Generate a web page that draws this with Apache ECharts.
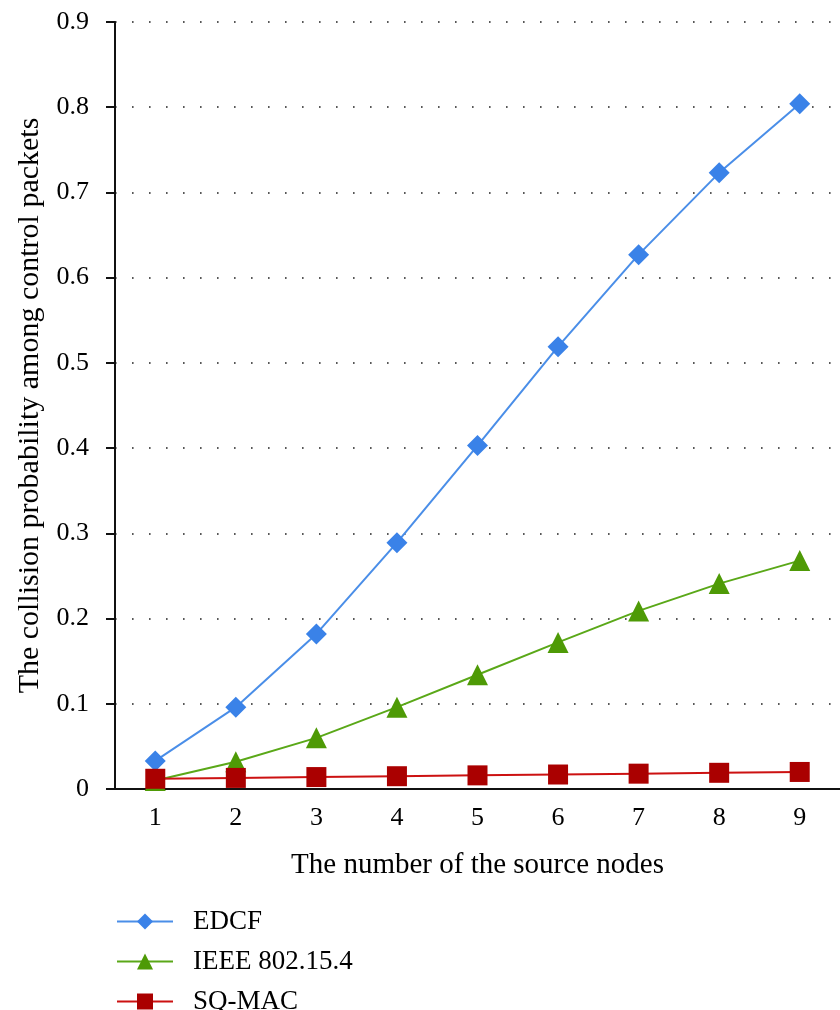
<!DOCTYPE html>
<html><head><meta charset="utf-8">
<script src="https://cdn.jsdelivr.net/npm/echarts@6/dist/echarts.min.js"></script>
<style>html,body{margin:0;padding:0;background:#fff}#c{width:840px;height:1010px}</style>
</head><body><div id="c"></div>
<script>
const categories = ['1','2','3','4','5','6','7','8','9'];
const edcf = [0.033, 0.096, 0.182, 0.289, 0.403, 0.519, 0.627, 0.723, 0.804];
const ieee = [0.010, 0.032, 0.060, 0.096, 0.134, 0.172, 0.209, 0.241, 0.268];
const sqmac = [0.012, 0.013, 0.014, 0.015, 0.016, 0.017, 0.018, 0.019, 0.020];
const seriesNames = ['EDCF', 'IEEE 802.15.4', 'SQ-MAC'];
const font = 'Liberation Serif, DejaVu Serif, serif';
const legendTops = [908, 948, 988];
const chart = echarts.init(document.getElementById('c'));
chart.setOption({
  animation: false,
  backgroundColor: '#fff',
  textStyle: {fontFamily: font},
  grid: {left: 115, top: 22, bottom: 221, right: -8},
  legend: seriesNames.map((n, i) => ({
    orient: 'vertical', left: 116, top: legendTops[i], padding: 0, itemWidth: 56, itemHeight: 20,
    textStyle: {fontFamily: font, fontSize: 27, color: '#000', padding: [0,0,0,15]},
    data: [n]
  })),
  xAxis: {
    type: 'category', data: categories, boundaryGap: true,
    name: 'The number of the source nodes', nameLocation: 'middle', nameGap: 62,
    nameTextStyle: {fontFamily: font, fontSize: 29, color: '#000'},
    axisLine: {lineStyle: {color: '#111', width: 2}},
    axisTick: {show: false},
    axisLabel: {fontFamily: font, fontSize: 26, color: '#000', margin: 16},
    splitLine: {show: false}
  },
  yAxis: {
    type: 'value', min: 0, max: 0.9, interval: 0.1,
    name: 'The collision probability among control packets', nameLocation: 'middle', nameGap: 70,
    nameTextStyle: {fontFamily: font, fontSize: 30, color: '#000'},
    axisLine: {show: true, lineStyle: {color: '#111', width: 2}},
    axisTick: {show: true, length: 9, lineStyle: {color: '#111', width: 2}},
    axisLabel: {fontFamily: font, fontSize: 26, color: '#000', margin: 26,
      formatter: v => (Math.round(v*10)/10).toString()},
    splitLine: {show: true, lineStyle: {color: '#222', width: 1.6, type: [1.6, 15.4]}}
  },
  series: [
    {name: seriesNames[0], type: 'line', data: edcf, symbol: 'diamond', symbolSize: 21,
     lineStyle: {color: '#4a8ee8', width: 2}, itemStyle: {color: '#3a82e8'}, z: 3},
    {name: seriesNames[1], type: 'line', data: ieee, symbol: 'triangle', symbolSize: 21,
     lineStyle: {color: '#5aa818', width: 2}, itemStyle: {color: '#4e9a06'}, z: 2},
    {name: seriesNames[2], type: 'line', data: sqmac, symbol: 'rect', symbolSize: 20,
     lineStyle: {color: '#cc1111', width: 2}, itemStyle: {color: '#aa0000'}, z: 4}
  ]
});
</script></body></html>
